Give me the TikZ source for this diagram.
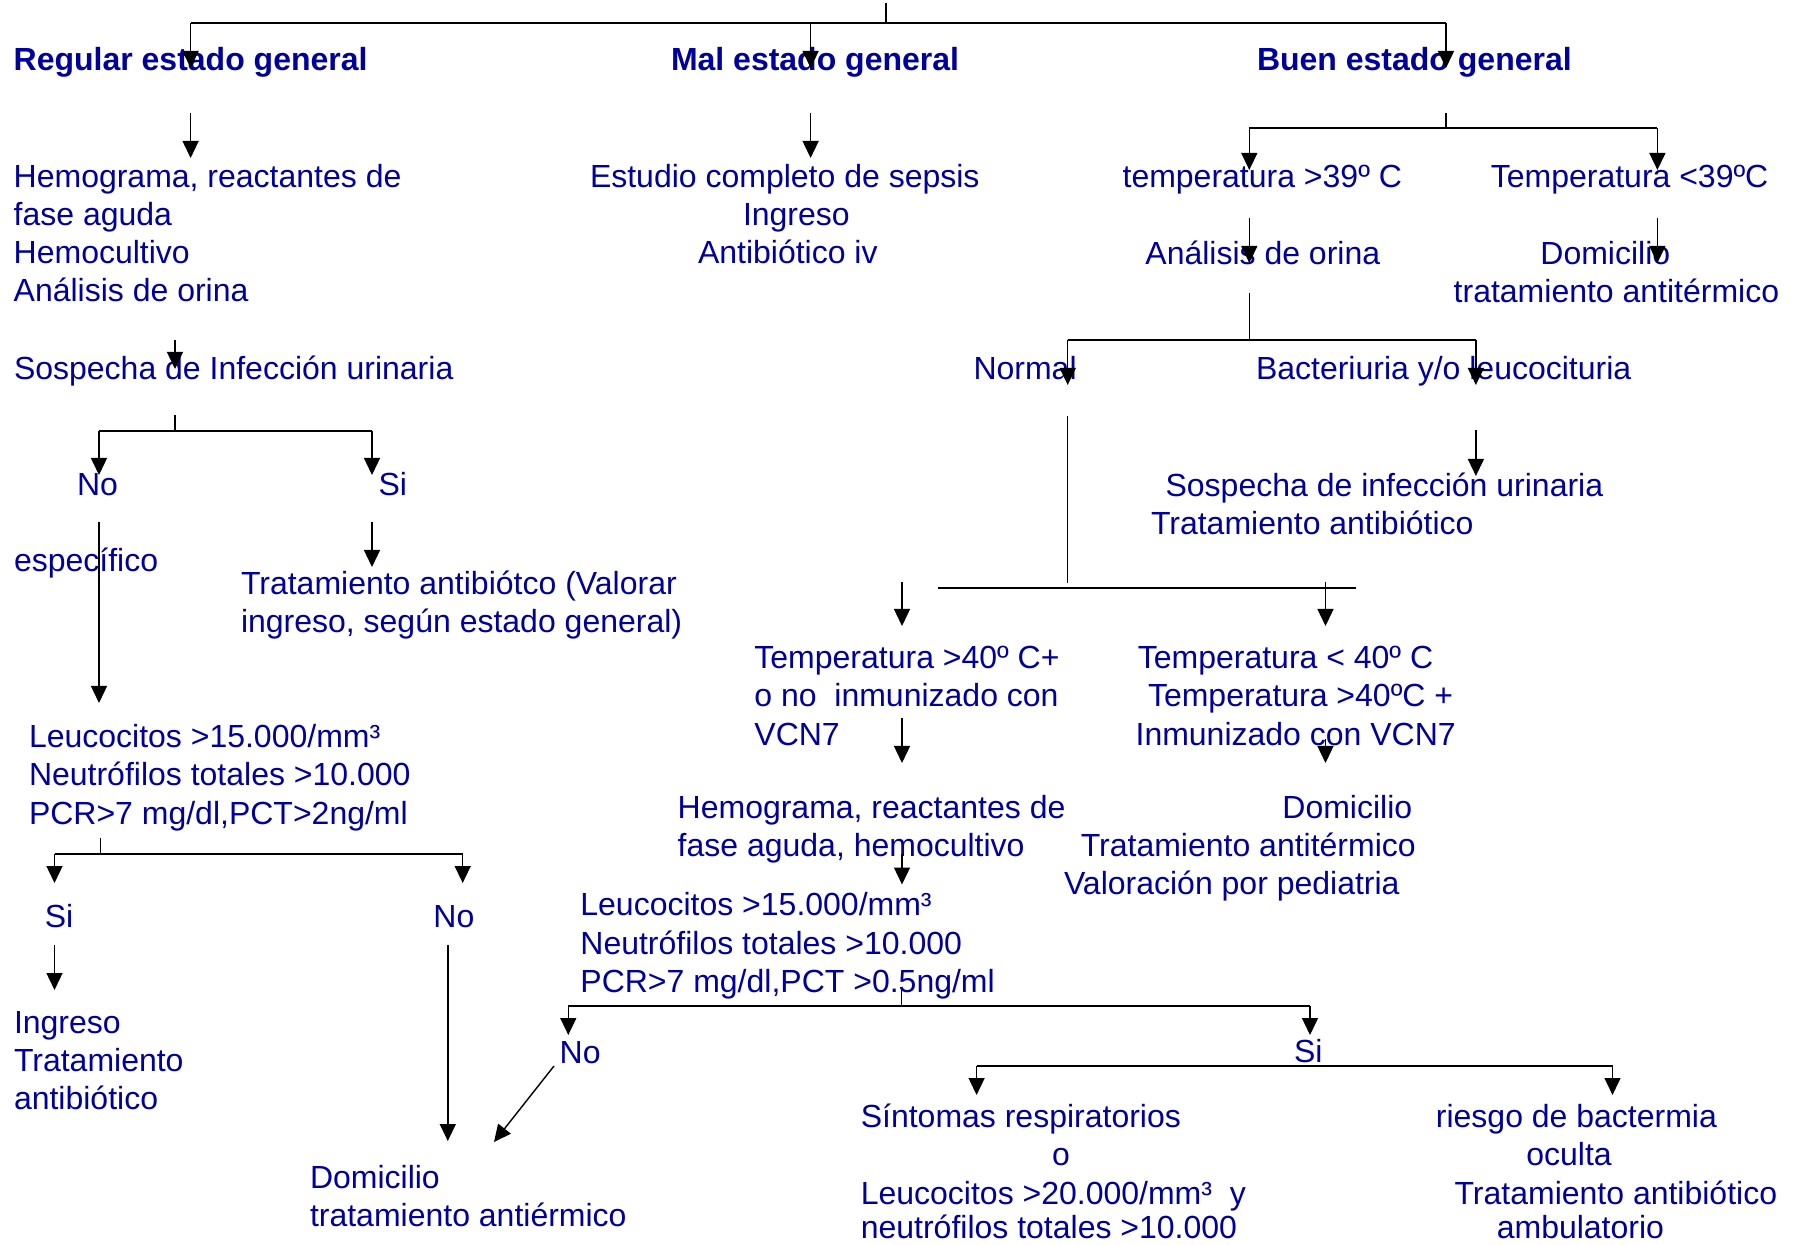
\documentclass[tikz,border=0pt]{standalone}
\usepackage{fontspec}
\setmainfont{Liberation Sans}
\usetikzlibrary{arrows.meta}
\definecolor{txtblue}{RGB}{0,0,155}
\begin{document}
\begin{tikzpicture}[x=0.5pt,y=-0.5pt,
  txt/.style={anchor=base west,inner sep=0pt,outer sep=0pt,text=txtblue,font=\fontsize{16pt}{19pt}\selectfont},
  hd/.style={txt,font=\fontsize{16pt}{19pt}\selectfont\bfseries},
  ln/.style={line width=0.7pt,black},
  hl/.style={line width=1pt,black},
  thk/.style={line width=1.2pt,black},
  arr/.style={ln,-{Triangle[length=8.5pt,width=8pt]}}]
\useasboundingbox (0,0) rectangle (1795,1245);

% ---------- texts ----------
\begin{scope}[shift={(0,2.5)}]
\node[hd] (hReg) at (13.7,68) {Regular estado general};
\node[hd] (hMal) at (671,68) {Mal estado general};
\node[hd] (hBuen) at (1257,68) {Buen estado general};

\node[txt] (rA) at (13.7,185) {Hemograma, reactantes de};
\node[txt] (rB) at (13.7,223) {fase aguda};
\node[txt] (rC) at (13.7,261) {Hemocultivo};
\node[txt] (rD) at (13.7,299) {Análisis de orina};
\node[txt] (rSos) at (14,377) {Sospecha de Infección urinaria};
\node[txt] (rNo) at (77,493) {No};
\node[txt] (rSi) at (378.6,493) {Si};
\node[txt] (rEsp) at (14,569) {específico};
\node[txt] (rTa) at (241,592) {Tratamiento antibiótco (Valorar};
\node[txt] (rTb) at (241,630) {ingreso, según estado general)};
\node[txt] (rLa) at (29,745) {Leucocitos >15.000/mm³};
\node[txt] (rLb) at (29,783) {Neutrófilos totales >10.000};
\node[txt] (rLc) at (29,822) {PCR>7 mg/dl,PCT>2ng/ml};
\node[txt] (rSi2) at (44.8,925) {Si};
\node[txt] (rNo2) at (433.4,925) {No};
\node[txt] (rIa) at (14,1031) {Ingreso};
\node[txt] (rIb) at (14,1069) {Tratamiento};
\node[txt] (rIc) at (14,1107) {antibiótico};
\node[txt] (rDa) at (310,1186) {Domicilio};
\node[txt] (rDb) at (310,1224) {tratamiento antiérmico};

\node[txt] (mA) at (590,185) {Estudio completo de sepsis};
\node[txt] (mB) at (743,223) {Ingreso};
\node[txt] (mC) at (698,261) {Antibiótico iv};

\node[txt] (bT1) at (1122.6,185) {temperatura >39º C};
\node[txt] (bT2) at (1490.8,185) {Temperatura <39ºC};
\node[txt] (bAn) at (1145.4,262) {Análisis de orina};
\node[txt] (bDo) at (1540.4,262) {Domicilio};
\node[txt] (bTr) at (1453.7,300) {tratamiento antitérmico};
\node[txt] (bNor) at (973.5,377) {Normal};
\node[txt] (bBac) at (1256,377) {Bacteriuria y/o leucocituria};
\node[txt] (bSa) at (1165.6,494) {Sospecha de infección urinaria};
\node[txt] (bSb) at (1151,532) {Tratamiento antibiótico};

\node[txt] (tA1) at (754.4,666) {Temperatura >40º C+};
\node[txt] (tA2) at (754.4,704) {o no\ \ inmunizado con};
\node[txt] (tA3) at (754.4,743) {VCN7};
\node[txt] (tB1) at (1137.8,666) {Temperatura < 40º C};
\node[txt] (tB2) at (1148,704) {Temperatura >40ºC +};
\node[txt] (tB3) at (1135.6,743) {Inmunizado con VCN7};

\node[txt] (hA1) at (677.7,816) {Hemograma, reactantes de};
\node[txt] (hA2) at (677.7,854) {fase aguda, hemocultivo};
\node[txt] (dA1) at (1282.4,816) {Domicilio};
\node[txt] (dA2) at (1080.8,854) {Tratamiento antitérmico};
\node[txt] (dA3) at (1064,892) {Valoración por pediatria};

\node[txt] (lA1) at (580.4,913) {Leucocitos >15.000/mm³};
\node[txt] (lA2) at (580.4,952) {Neutrófilos totales >10.000};
\node[txt] (lA3) at (580.4,990) {PCR>7 mg/dl,PCT >0.5ng/ml};
\node[txt] (mNo) at (559.7,1061) {No};
\node[txt] (mSi) at (1294,1060) {Si};

\node[txt] (sA1) at (860.8,1125) {Síntomas respiratorios};
\node[txt] (sA2) at (1052,1163) {o};
\node[txt] (sA3) at (860.8,1202) {Leucocitos >20.000/mm³\ \ y};
\node[txt] (sA4) at (860.8,1236) {neutrófilos totales >10.000};
\node[txt] (oA1) at (1435.9,1125) {riesgo de bactermia};
\node[txt] (oA2) at (1526.3,1163) {oculta};
\node[txt] (oA3) at (1454.6,1202) {Tratamiento antibiótico};
\node[txt] (oA4) at (1496.8,1236) {ambulatorio};
\end{scope}

% ---------- connector points ----------
\coordinate (top) at (886,3);
\coordinate (topJ) at (886,23);
\coordinate (jReg) at (190.6,23);
\coordinate (jMal) at (810.6,23);
\coordinate (jBuen) at (1446,23);
\coordinate (eReg) at (190.6,68);
\coordinate (eMal) at (810.6,68);
\coordinate (eBuen) at (1446,68);

\coordinate (r1s) at (190.6,113); \coordinate (r1e) at (190.6,158);
\coordinate (r2s) at (175,340);   \coordinate (r2e) at (175,369);
\coordinate (f1a) at (175,415);   \coordinate (f1b) at (175,431);
\coordinate (f1L) at (99,475);    \coordinate (f1R) at (372,475);
\coordinate (n1s) at (99,522);    \coordinate (n1e) at (99,703);
\coordinate (s1s) at (372,522);   \coordinate (s1e) at (372,567);
\coordinate (f2a) at (100.5,838); \coordinate (f2b) at (100.5,854);
\coordinate (f2L) at (54.5,883);  \coordinate (f2R) at (462.7,883);
\coordinate (s2s) at (54.5,945);  \coordinate (s2e) at (54.5,990);
\coordinate (n2s) at (447.8,945); \coordinate (n2e) at (447.8,1141);
\coordinate (d1s) at (554,1066);  \coordinate (d1e) at (494,1142);

\coordinate (m1s) at (810.6,113); \coordinate (m1e) at (810.6,158);

\coordinate (f3a) at (1446,113);  \coordinate (f3b) at (1446,128);
\coordinate (f3L) at (1249.3,170);\coordinate (f3R) at (1657.4,170);
\coordinate (b1s) at (1249.3,218);\coordinate (b1e) at (1249.3,263);
\coordinate (b2s) at (1657.4,218);\coordinate (b2e) at (1657.4,263);
\coordinate (f4a) at (1249.3,293);\coordinate (f4b) at (1249.3,340);
\coordinate (f4L) at (1067.7,385);\coordinate (f4R) at (1475.9,385);
\coordinate (nv1) at (1067.7,416);\coordinate (nv2) at (1067.7,583);
\coordinate (bs) at (1475.9,430); \coordinate (be) at (1475.9,476);
\coordinate (h1) at (938.4,588);  \coordinate (h2) at (1356,588);
\coordinate (ta1) at (902,582);   \coordinate (ta2) at (902,626);
\coordinate (tb1) at (1325.5,582);\coordinate (tb2) at (1325.5,626);
\coordinate (v1s) at (902,718);   \coordinate (v1e) at (902,763);
\coordinate (v2s) at (1325.5,739);\coordinate (v2e) at (1325.5,763);
\coordinate (hm1) at (902,854);   \coordinate (hm2) at (902,884.5);
\coordinate (f5a) at (901.2,990); \coordinate (f5b) at (901.2,1006);
\coordinate (f5L) at (568.3,1035);\coordinate (f5R) at (1310,1035);
\coordinate (f6m) at (1294,1066);
\coordinate (f6L) at (976.6,1095);\coordinate (f6R) at (1612.5,1095);

% ---------- connectors ----------
% top fork
\draw[ln] (top) -- (topJ);
\draw[hl] (jReg) -- (jBuen);
\draw[arr] (jReg) -- (eReg);
\draw[arr] (jMal) -- (eMal);
\draw[arr] (jBuen) -- (eBuen);

% regular
\draw[arr] (r1s) -- (r1e);
\draw[arr] (r2s) -- (r2e);
\draw[ln] (f1a) -- (f1b);
\draw[hl] (f1L |- f1b) -- (f1R |- f1b);
\draw[arr] (f1L |- f1b) -- (f1L);
\draw[arr] (f1R |- f1b) -- (f1R);
\draw[arr] (n1s) -- (n1e);
\draw[arr] (s1s) -- (s1e);
\draw[ln] (f2a) -- (f2b);
\draw[hl] (f2L |- f2b) -- (f2R |- f2b);
\draw[arr] (f2L |- f2b) -- (f2L);
\draw[arr] (f2R |- f2b) -- (f2R);
\draw[arr] (s2s) -- (s2e);
\draw[arr] (n2s) -- (n2e);
\draw[arr] (d1s) -- (d1e);

% mal
\draw[arr] (m1s) -- (m1e);

% buen
\draw[ln] (f3a) -- (f3b);
\draw[hl] (f3L |- f3b) -- (f3R |- f3b);
\draw[arr] (f3L |- f3b) -- (f3L);
\draw[arr] (f3R |- f3b) -- (f3R);
\draw[arr] (b1s) -- (b1e);
\draw[arr] (b2s) -- (b2e);
\draw[ln] (f4a) -- (f4b);
\draw[hl] (f4L |- f4b) -- (f4R |- f4b);
\draw[arr] (f4L |- f4b) -- (f4L);
\draw[arr] (f4R |- f4b) -- (f4R);
\draw[ln] (nv1) -- (nv2);
\draw[arr] (bs) -- (be);
\draw[thk] (h1) -- (h2);
\draw[arr] (ta1) -- (ta2);
\draw[arr] (tb1) -- (tb2);
\draw[arr] (v1s) -- (v1e);
\draw[arr] (v2s) -- (v2e);
\draw[arr] (hm1) -- (hm2);
\draw[ln] (f5a) -- (f5b);
\draw[hl] (f5L |- f5b) -- (f5R |- f5b);
\draw[arr] (f5L |- f5b) -- (f5L);
\draw[arr] (f5R |- f5b) -- (f5R);
\draw[hl] (f6L |- f6m) -- (f6R |- f6m);
\draw[arr] (f6L |- f6m) -- (f6L);
\draw[arr] (f6R |- f6m) -- (f6R);
\end{tikzpicture}
\end{document}
